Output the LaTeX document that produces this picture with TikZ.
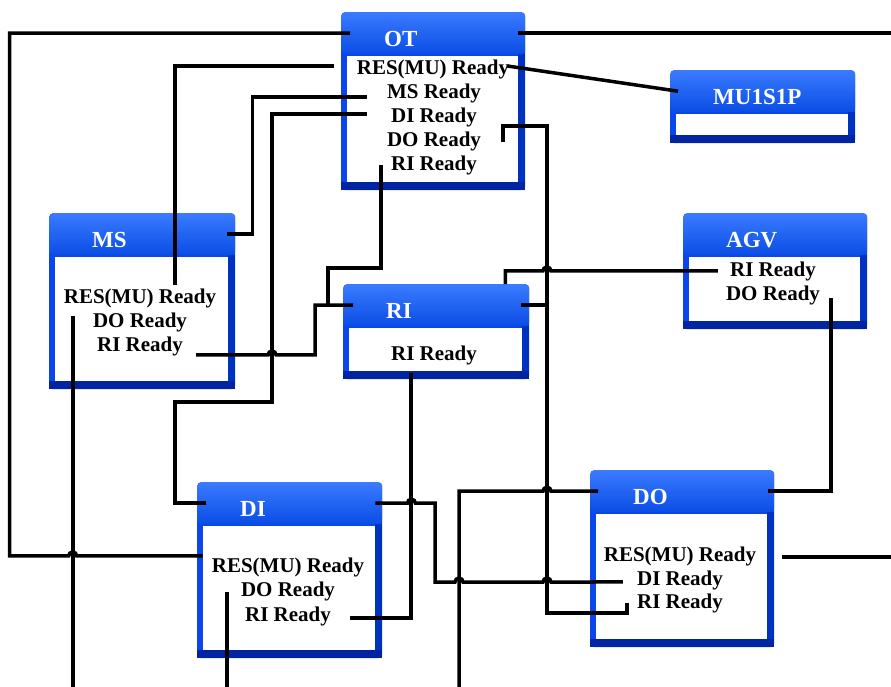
\documentclass[tikz,border=0pt]{standalone}
\usepackage{fontspec}
\setmainfont{Liberation Serif}
\usetikzlibrary{calc}
\definecolor{hdrtop}{HTML}{3A7BFF}
\definecolor{hdrmid}{HTML}{1462FF}
\definecolor{hdrbot}{HTML}{0A4DE4}
\definecolor{rim}{HTML}{0A46EC}
\definecolor{rimdark}{HTML}{0032C0}
\definecolor{rimdeep}{HTML}{0024A2}
\tikzset{
  %% boxes
  frame/.style      = {fill=rim, rounded corners=4pt, inner sep=0pt},
  head/.style       = {top color=hdrtop, middle color=hdrmid, bottom color=hdrbot,
                       rounded corners=4pt, minimum height=42, inner sep=0pt},
  titletext/.style  = {font=\fontsize{23}{26}\selectfont\bfseries, text=white, inner sep=0pt},
  txt/.style        = {font=\fontsize{21}{24}\selectfont\bfseries, inner sep=0pt, anchor=base},
  %% connectors
  wire/.style       = {draw=black, line width=3.5pt, line join=miter},
}
% name, x, y, width, height, title
\newcommand\unitbox[6]{%
  \node[frame, minimum width=#4, minimum height=#5, anchor=north west] (#1) at (#2,#3) {};
  \fill[rimdark] ($(#1.north east)+(-7,42)$) rectangle (#1.south east);
  \fill[rimdeep] ($(#1.south west)+(0,-8)$) rectangle (#1.south east);
  \fill[white] ($(#1.north west)+(6,44)$) rectangle ($(#1.south east)+(-7,-8)$);
  \node[head, minimum width=#4, anchor=north west] (#1Head) at (#2,#3) {};
  \node[titletext, anchor=west] (#1Title) at ($(#1Head.west)+(43,5.5)$) {#6};
}

\begin{document}
\begin{tikzpicture}[x=1pt, y=-1pt]
\useasboundingbox (0,0) rectangle (891,686);
\clip (0,0) rectangle (891,686);

%% ============ units ============
\unitbox{OT}{341}{12}{184}{178}{OT}
\unitbox{MU}{670}{70}{185}{73}{MU1S1P}
\unitbox{MS}{49}{213}{186}{176}{MS}
\unitbox{RI}{343}{284}{186}{95}{RI}
\unitbox{AGV}{683}{213}{184}{116}{AGV}
\unitbox{DI}{197}{482}{185}{176}{DI}
\unitbox{DO}{590}{470}{184}{177}{DO}

%% ============ signals ============
\node[txt] (otRes) at (433,74)  {RES(MU) Ready};
\node[txt] (otMs)  at (434,98)  {MS Ready};
\node[txt] (otDi)  at (434,122) {DI Ready};
\node[txt] (otDo)  at (434,146) {DO Ready};
\node[txt] (otRi)  at (434,170) {RI Ready};

\node[txt] (msRes) at (140,303) {RES(MU) Ready};
\node[txt] (msDo)  at (140,327) {DO Ready};
\node[txt] (msRi)  at (140,351) {RI Ready};

\node[txt] (riRi)  at (434,360) {RI Ready};

\node[txt] (agvRi) at (773,276) {RI Ready};
\node[txt] (agvDo) at (773,300) {DO Ready};

\node[txt] (diRes) at (288,572) {RES(MU) Ready};
\node[txt] (diDo)  at (288,596) {DO Ready};
\node[txt] (diRi)  at (288,621) {RI Ready};

\node[txt] (doRes) at (680,561) {RES(MU) Ready};
\node[txt] (doDi)  at (680,585) {DI Ready};
\node[txt] (doRi)  at (680,608) {RI Ready};

%% ============ wiring ============
\draw[wire] ([xshift=-9pt,yshift=11pt]diRes.west) -- ++(-126,0)
  arc[start angle=0, end angle=-180, radius=4] -- ++(-59,0) |- ([xshift=9pt]OTHead.west);
\draw[wire] ([xshift=-7pt]OTHead.east) -- ++(420,0);
\draw[wire] ([xshift=-23pt,yshift=3pt]otRes.west) -| ([xshift=35pt,yshift=3pt]msRes.north);
\draw[wire] ([xshift=-2pt,yshift=3pt]otRes.east) -- ([xshift=8pt]MUHead.west);
\draw[wire] ([xshift=-20pt,yshift=-4pt]otMs.west) -| ([xshift=17pt]MSHead.east) -- ([xshift=-8pt]MSHead.east);
\draw[wire] ([xshift=-24pt,yshift=3pt]otDi.west) -| (272,402) -| ([xshift=-22pt]DIHead.west)
  -- ([xshift=9pt]DIHead.west);
\draw[wire] ([xshift=13pt,yshift=-9pt]msRi.east) -- ++(72,0)
  arc[start angle=180, end angle=360, radius=4] -| ([xshift=-28pt]RIHead.west) -- ([xshift=10pt]RIHead.west);
\draw[wire] ([xshift=-10pt]otRi.west) |- (328,268) -- ([xshift=-15pt]RIHead.west);
\draw[wire] ([xshift=22pt,yshift=-1pt]otDo.east) -- ++(0,-16) -| ([xshift=-43pt]DOHead.west);
\draw[wire] ([xshift=8pt]DOHead.west) -- ++(-47,0)
  arc[start angle=0, end angle=-180, radius=4] -| (459,700);
\draw[wire] ([xshift=-20pt,yshift=6pt]msDo.west) -- ++(0,400);
\draw[wire] ([xshift=-14pt,yshift=-1pt]diDo.west) -- ++(0,200);
\draw[wire] ([xshift=-12pt]agvRi.west) -- ++(-167,0)
  arc[start angle=0, end angle=-180, radius=4] -| ([xshift=-24pt]RIHead.north east);
\draw[wire] ([xshift=-8pt]RIHead.east) -| (547,613) -| ([xshift=-10pt]doRi.west);
\draw[wire] ([xshift=-7pt]DIHead.east) -- ++(32,0)
  arc[start angle=180, end angle=360, radius=4] -| (435,582) -- (455,582)
  arc[start angle=180, end angle=360, radius=4] -- (543,582)
  arc[start angle=180, end angle=360, radius=4] -- ([xshift=-14pt,yshift=-2pt]doDi.west);
\draw[wire] ([xshift=-23pt,yshift=-8pt]riRi.south) |- ([xshift=19pt,yshift=-2pt]diRi.east);
\draw[wire] ([xshift=11pt,yshift=-3pt]agvDo.east) |- ([xshift=-6pt]DOHead.east);
\draw[wire] ([xshift=26pt,yshift=-1pt]doRes.east) -- ++(150,0);

\end{tikzpicture}
\end{document}
